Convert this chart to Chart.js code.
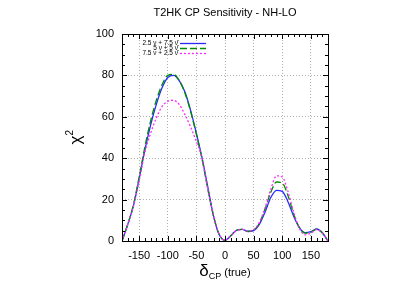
<!DOCTYPE html>
<html>
<head>
<meta charset="utf-8">
<script src="https://cdn.jsdelivr.net/npm/chart.js@4"></script>
<style>
html,body{margin:0;padding:0;background:#fff;}
#wrap{position:relative;width:415px;height:290px;}
</style>
</head>
<body>
<div id="wrap"><canvas id="c" width="415" height="290"></canvas></div>
<script>
const deltaCP = [-180,-170,-160,-150,-140,-130,-120,-110,-100,-90,-80,-70,-60,-50,-40,-30,-20,-10,0,10,20,30,40,50,60,70,80,90,100,110,120,130,140,150,160,170,180];
const chi2_25_75 = [0,8,17,30,44,56,66,74,79,80,77.5,72,63,52,40,26,12,3,0.3,2.5,5.2,5.6,4.6,5.0,8,14,21,24.5,24,19,12,6.5,4,4.5,5.8,4,0];
const chi2_5_5   = [0,8,17.5,31,45.5,58,68,75.5,80,80.5,77.5,71.5,62.5,51.5,39.5,25,12,3,0.3,2.5,5.2,5.6,4.7,5.3,8.5,15.5,23.5,28.5,28,22,13,6.5,3.8,4.2,5.8,4,0];
const chi2_75_25 = [0,8,17,29,43,52,59.5,65,67.5,68,66,61,55,48,40,25,12,3,0.3,2.5,5,5.6,4.8,5.5,9,16,25,31.5,31,24,14,6,3,3.8,5.5,4,0];
const seriesLabels = ["2.5 \u03bd + 7.5 \u03bd\u0304", "5 \u03bd + 5 \u03bd\u0304", "7.5 \u03bd + 2.5 \u03bd\u0304"];
const xTicks = [-150,-100,-50,0,50,100,150];
const yTicks = [0,20,40,60,80,100];
const titleText = "T2HK CP Sensitivity - NH-LO";

const colors = ['#2a2aff', '#008a00', '#ff2aff'];
const dashes = [[], [7,3], [2,2]];
const seriesData = [chi2_25_75, chi2_5_5, chi2_75_25];

const FONT = '"Liberation Sans", Arial, sans-serif';

const decor = {
  id: 'decor',
  afterDraw(chart) {
    const ctx = chart.ctx, ca = chart.chartArea;
    const xs = chart.scales.x, ys = chart.scales.y;
    ctx.save();
    // frame
    ctx.strokeStyle = '#000'; ctx.lineWidth = 1; ctx.setLineDash([]);
    ctx.strokeRect(Math.round(ca.left)+0.5, Math.round(ca.top)+0.5, Math.round(ca.right-ca.left), Math.round(ca.bottom-ca.top));
    // ticks
    ctx.beginPath();
    for (let v = -180; v <= 180; v += 10) {
      const px = Math.round(xs.getPixelForValue(v)) + 0.5;
      const len = (v % 50 === 0) ? 5 : 3;
      ctx.moveTo(px, ca.bottom); ctx.lineTo(px, ca.bottom - len);
      ctx.moveTo(px, ca.top); ctx.lineTo(px, ca.top + len);
    }
    for (let v = 0; v <= 100; v += 5) {
      const py = Math.round(ys.getPixelForValue(v)) + 0.5;
      const len = (v % 20 === 0) ? 5 : 3;
      ctx.moveTo(ca.left, py); ctx.lineTo(ca.left + len, py);
      ctx.moveTo(ca.right, py); ctx.lineTo(ca.right - len, py);
    }
    ctx.stroke();
    // title
    ctx.fillStyle = '#000';
    ctx.font = '11px ' + FONT;
    ctx.textAlign = 'center'; ctx.textBaseline = 'middle';
    ctx.fillText(titleText, (ca.left + ca.right) / 2, 13);
    // y title
    ctx.save();
    ctx.translate(76, 137);
    ctx.rotate(-Math.PI / 2);
    ctx.font = '17px ' + FONT;
    ctx.textAlign = 'left';
    const chiW = ctx.measureText('\u03c7').width;
    ctx.fillText('\u03c7', -(chiW + 6) / 2, 0);
    ctx.font = '10px ' + FONT;
    ctx.fillText('2', -(chiW + 6) / 2 + chiW, -6);
    ctx.restore();
    // x title
    ctx.textAlign = 'left'; ctx.textBaseline = 'alphabetic';
    ctx.font = '17px ' + FONT;
    const dW = ctx.measureText('\u03b4').width;
    ctx.font = '9px ' + FONT;
    const cpW = ctx.measureText('CP').width;
    ctx.font = '11px ' + FONT;
    const tW = ctx.measureText(' (true)').width;
    let x0 = (ca.left + ca.right) / 2 - (dW + cpW + tW) / 2;
    const by = 276;
    ctx.font = '17px ' + FONT; ctx.fillText('\u03b4', x0, by);
    ctx.font = '9px ' + FONT; ctx.fillText('CP', x0 + dW, by + 3);
    ctx.font = '11px ' + FONT; ctx.fillText(' (true)', x0 + dW + cpW, by);
    // legend
    ctx.font = '6.5px ' + FONT;
    ctx.textAlign = 'right'; ctx.textBaseline = 'middle';
    const lx = ca.left + 56, sx0 = ca.left + 58, sx1 = ca.left + 84;
    for (let i = 0; i < 3; i++) {
      const y = ca.top + 9 + i * 5;
      ctx.fillStyle = '#000';
      ctx.fillText(seriesLabels[i], lx, y);
      ctx.strokeStyle = colors[i]; ctx.lineWidth = 1.3; ctx.setLineDash(dashes[i]);
      ctx.beginPath(); ctx.moveTo(sx0, y + 0.5); ctx.lineTo(sx1, y + 0.5); ctx.stroke();
    }
    ctx.restore();
  }
};

new Chart(document.getElementById('c'), {
  type: 'line',
  data: {
    datasets: seriesData.map((arr, i) => ({
      label: seriesLabels[i],
      data: deltaCP.map((d, j) => ({x: d, y: arr[j]})),
      borderColor: colors[i],
      borderWidth: 1.3,
      borderDash: dashes[i],
      pointRadius: 0,
      fill: false,
      cubicInterpolationMode: 'monotone'
    })).reverse()
  },
  options: {
    responsive: false,
    animation: false,
    layout: {padding: {top: 34, right: 87, left: 0, bottom: 0}},
    plugins: {legend: {display: false}, title: {display: false}, tooltip: {enabled: false}},
    scales: {
      x: {
        type: 'linear', min: -180, max: 180,
        afterBuildTicks: s => { s.ticks = xTicks.map(v => ({value: v})); },
        afterFit: s => { s.height = 49; },
        grid: {color: '#b0b0b0', lineWidth: 1, drawTicks: false},
        border: {display: false, dash: [1, 2]},
        ticks: {padding: 8, color: '#000', font: {size: 11, family: FONT}, maxRotation: 0}
      },
      y: {
        min: 0, max: 100,
        afterBuildTicks: s => { s.ticks = yTicks.map(v => ({value: v})); },
        afterFit: s => { s.width = 122; },
        grid: {color: '#b0b0b0', lineWidth: 1, drawTicks: false},
        border: {display: false, dash: [1, 2]},
        ticks: {padding: 8, color: '#000', font: {size: 11, family: FONT}}
      }
    }
  },
  plugins: [decor]
});
</script>
</body>
</html>
